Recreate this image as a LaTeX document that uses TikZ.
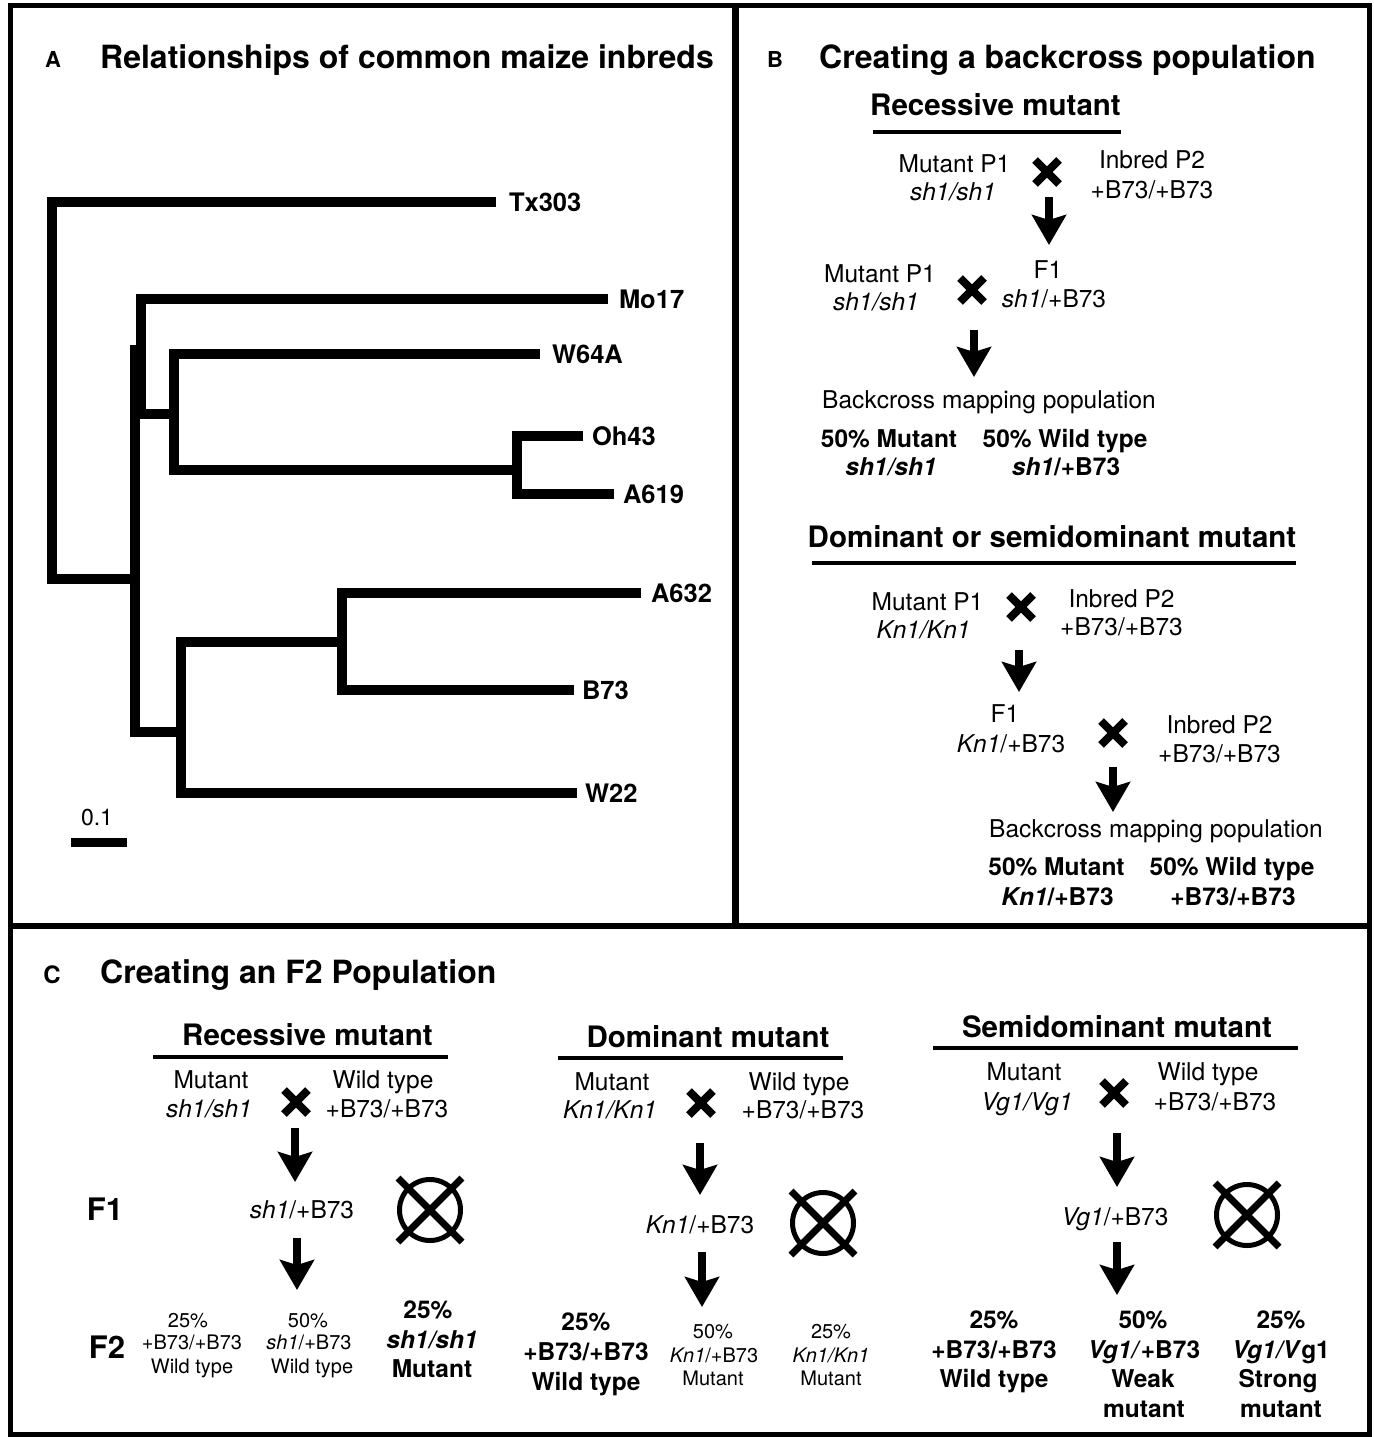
\documentclass[tikz,border=0pt]{standalone}
\usepackage{fontspec}
\setmainfont{TeX Gyre Heros}
\usetikzlibrary{arrows.meta}
\newcommand\ftitle{\fontsize{32}{36}\selectfont\bfseries}
\newcommand\fsubt{\fontsize{29.5}{34}\selectfont\bfseries}
\newcommand\fnorm{\fontsize{24.5}{28}\selectfont}
\newcommand\fbld{\fontsize{24.5}{28}\selectfont\bfseries}
\newcommand\fsmall{\fontsize{20}{23}\selectfont}
\newcommand\fletter{\fontsize{22}{26}\selectfont\bfseries}
\newcommand\ftree{\fontsize{25.5}{30}\selectfont\bfseries}
\newcommand\fgen{\fontsize{31}{36}\selectfont\bfseries}
\begin{document}
\begin{tikzpicture}[x=1pt,y=-1pt,
  lab/.style={anchor=base,inner sep=0pt,outer sep=0pt},
  tlab/.style={anchor=base west,inner sep=0pt,outer sep=0pt,font=\ftree},
  tree/.style={line width=10pt,line join=miter,line cap=butt},
  frameline/.style={line width=5pt},
  uline/.style={line width=4pt},
  bigarrow/.style={line width=8pt,-{Stealth[length=30pt,width=34pt,inset=5pt]}},
  xmark/.pic={\draw[line width=8pt] (-12,-12)--(12,12) (-12,12)--(12,-12);},
  selfmark/.pic={\draw[line width=5pt] (0,0) circle[radius=30.5];
                 \draw[line width=7pt] (-32,-32)--(32,32) (-32,32)--(32,-32);}
]
\useasboundingbox (0,0) rectangle (1373,1437);
\fill[white] (0,0) rectangle (1373,1437);

% frames
\draw[frameline] (10,6) rectangle (1369,1434);
\draw[line width=7pt] (735,6) -- (735,926);
\draw[line width=6pt] (10,926) -- (1369,926);

% ---------------- Panel A ----------------
\node[lab,font=\fletter] (Alet) at (53,67) {A};
\node[anchor=base west,inner sep=0pt,font=\ftitle] (Atitle) at (100,68) {Relationships of common maize inbreds};

\draw[tree] (496,202) -- (52,202) -- (52,579) -- (135,579);
\draw[tree] (608,299) -- (141,299) -- (141,414) -- (174,414);
\draw[tree] (135,345) -- (135,732) -- (181,732);
\draw[tree] (540,354) -- (174,354) -- (174,470) -- (517,470);
\draw[tree] (583,436) -- (517,436) -- (517,494) -- (614,494);
\draw[tree] (641,593) -- (342,593) -- (342,690) -- (574,690);
\draw[tree] (342,642) -- (181,642) -- (181,793) -- (577,793);

\node[tlab] (tx) at (509,211) {Tx303};
\node[tlab] (mo) at (619,308) {Mo17};
\node[tlab] (w64) at (552,363) {W64A};
\node[tlab] (oh) at (592,445) {Oh43};
\node[tlab] (a619) at (623,503) {A619};
\node[tlab] (a632) at (651,602) {A632};
\node[tlab] (b73) at (582,699) {B73};
\node[tlab] (w22) at (585,802) {W22};

\node[lab,font=\fontsize{23}{26}\selectfont] (scl) at (97,825) {0.1};
\draw[line width=9pt] (71,842) -- (127,842);

% ---------------- Panel B ----------------
\node[lab,font=\fletter] (Blet) at (775,67) {B};
\node[anchor=base west,inner sep=0pt,font=\ftitle] (Btitle) at (819,68) {Creating a backcross population};

\node[lab,font=\fsubt] (brec) at (995.5,115) {Recessive mutant};
\draw[uline] (873,132) -- (1121,132);

\node[lab,font=\fnorm] (b1m) at (954.5,172) {Mutant P1};
\node[lab,font=\fnorm] (b1mg) at (953,200) {\itshape sh1/sh1};
\pic at (1047,172) {xmark};
\node[lab,font=\fnorm] (b1i) at (1152,168) {Inbred P2};
\node[lab,font=\fnorm] (b1ig) at (1152,198) {+B73/+B73};
\coordinate (b1a) at (1049,197);
\coordinate (b1b) at (1049,245);
\draw[bigarrow] (b1a) -- (b1b);

\node[lab,font=\fnorm] (b2m) at (880,282) {Mutant P1};
\node[lab,font=\fnorm] (b2mg) at (876,310) {\itshape sh1/sh1};
\pic at (972,290) {xmark};
\node[lab,font=\fnorm] (b2f) at (1048,278) {F1};
\node[lab,font=\fnorm] (b2fg) at (1054,307) {\textit{sh1}/+B73};
\coordinate (b2a) at (974,330);
\coordinate (b2b) at (974,377);
\draw[bigarrow] (b2a) -- (b2b);

\node[lab,font=\fnorm] (b3) at (989,408) {Backcross mapping population};
\node[lab,font=\fbld] (b3m) at (889,447) {50\% Mutant};
\node[lab,font=\fbld] (b3w) at (1065,447) {50\% Wild type};
\node[lab,font=\fbld] (b3mg) at (891,475) {\itshape sh1/sh1};
\node[lab,font=\fbld] (b3wg) at (1066,475) {\textit{sh1}/+B73};

\node[lab,font=\fsubt] (bdom) at (1052,547) {Dominant or semidominant mutant};
\draw[uline] (812,563) -- (1296,563);

\node[lab,font=\fnorm] (d1m) at (927.5,610) {Mutant P1};
\node[lab,font=\fnorm] (d1mg) at (923.5,638) {\itshape Kn1/Kn1};
\pic at (1021,607) {xmark};
\node[lab,font=\fnorm] (d1i) at (1121.5,607) {Inbred P2};
\node[lab,font=\fnorm] (d1ig) at (1121.5,635) {+B73/+B73};
\coordinate (d1a) at (1019,650);
\coordinate (d1b) at (1019,692);
\draw[bigarrow] (d1a) -- (d1b);

\node[lab,font=\fnorm] (d2f) at (1005,722) {F1};
\node[lab,font=\fnorm] (d2fg) at (1011,752) {\textit{Kn1}/+B73};
\pic at (1113,733) {xmark};
\node[lab,font=\fnorm] (d2i) at (1219.5,733) {Inbred P2};
\node[lab,font=\fnorm] (d2ig) at (1219.5,762) {+B73/+B73};
\coordinate (d2a) at (1113,767);
\coordinate (d2b) at (1113,812);
\draw[bigarrow] (d2a) -- (d2b);

\node[lab,font=\fnorm] (d3) at (1156,837) {Backcross mapping population};
\node[lab,font=\fbld] (d3m) at (1056.5,875) {50\% Mutant};
\node[lab,font=\fbld] (d3w) at (1232,875) {50\% Wild type};
\node[lab,font=\fbld] (d3mg) at (1057.5,905) {\textit{Kn1}/+B73};
\node[lab,font=\fbld] (d3wg) at (1233,905) {+B73/+B73};

% ---------------- Panel C ----------------
\node[lab,font=\fontsize{24}{28}\selectfont\bfseries] (Clet) at (52,983) {C};
\node[anchor=base west,inner sep=0pt,font=\ftitle] (Ctitle) at (100,983) {Creating an F2 Population};

\node[lab,font=\fgen] (cF1) at (105,1220) {F1};
\node[lab,font=\fgen] (cF2) at (107,1358) {F2};

% recessive
\node[lab,font=\fsubt] (crec) at (307.5,1045) {Recessive mutant};
\draw[uline] (153,1057) -- (448,1057);
\node[lab,font=\fnorm] (r1m) at (211,1088) {Mutant};
\node[lab,font=\fnorm] (r1mg) at (209,1117) {\itshape sh1/sh1};
\pic at (296,1102) {xmark};
\node[lab,font=\fnorm] (r1w) at (383,1088) {Wild type};
\node[lab,font=\fnorm] (r1wg) at (387,1117) {+B73/+B73};
\coordinate (r1a) at (295,1128);
\coordinate (r1b) at (295,1182);
\draw[bigarrow] (r1a) -- (r1b);
\node[lab,font=\fnorm] (r2) at (302,1218) {\textit{sh1}/+B73};
\pic at (430,1210) {selfmark};
\coordinate (r2a) at (297,1238);
\coordinate (r2b) at (297,1290);
\draw[bigarrow] (r2a) -- (r2b);
\node[lab,font=\fsmall] (r3a1) at (188,1327) {25\%};
\node[lab,font=\fsmall] (r3a2) at (192,1349) {+B73/+B73};
\node[lab,font=\fsmall] (r3a3) at (192,1373) {Wild type};
\node[lab,font=\fsmall] (r3b1) at (308,1327) {50\%};
\node[lab,font=\fsmall] (r3b2) at (309,1349) {\textit{sh1}/+B73};
\node[lab,font=\fsmall] (r3b3) at (312,1373) {Wild type};
\node[lab,font=\fbld] (r3c1) at (428,1318) {25\%};
\node[lab,font=\fbld] (r3c2) at (432,1348) {\itshape sh1/sh1};
\node[lab,font=\fbld] (r3c3) at (432,1377) {Mutant};

% dominant
\node[lab,font=\fsubt] (cdom) at (708,1047) {Dominant mutant};
\draw[uline] (558,1058) -- (843,1058);
\node[lab,font=\fnorm] (o1m) at (612,1090) {Mutant};
\node[lab,font=\fnorm] (o1mg) at (610,1118) {\itshape Kn1/Kn1};
\pic at (701,1103) {xmark};
\node[lab,font=\fnorm] (o1w) at (799,1090) {Wild type};
\node[lab,font=\fnorm] (o1wg) at (803,1118) {+B73/+B73};
\coordinate (o1a) at (700,1143);
\coordinate (o1b) at (700,1195);
\draw[bigarrow] (o1a) -- (o1b);
\node[lab,font=\fnorm] (o2) at (700,1233) {\textit{Kn1}/+B73};
\pic at (823,1223) {selfmark};
\coordinate (o2a) at (702,1252);
\coordinate (o2b) at (702,1307);
\draw[bigarrow] (o2a) -- (o2b);
\node[lab,font=\fbld] (o3a1) at (586,1330) {25\%};
\node[lab,font=\fbld] (o3a2) at (586,1360) {+B73/+B73};
\node[lab,font=\fbld] (o3a3) at (586,1390) {Wild type};
\node[lab,font=\fsmall] (o3b1) at (713,1338) {50\%};
\node[lab,font=\fsmall] (o3b2) at (714,1362) {\textit{Kn1}/+B73};
\node[lab,font=\fsmall] (o3b3) at (713,1385) {Mutant};
\node[lab,font=\fsmall] (o3c1) at (831,1338) {25\%};
\node[lab,font=\fsmall] (o3c2) at (831,1362) {\itshape Kn1/Kn1};
\node[lab,font=\fsmall] (o3c3) at (831,1385) {Mutant};

% semidominant
\node[lab,font=\fsubt] (csem) at (1117,1037) {Semidominant mutant};
\draw[uline] (933,1048) -- (1298,1048);
\node[lab,font=\fnorm] (s1m) at (1024,1080) {Mutant};
\node[lab,font=\fnorm] (s1mg) at (1027,1110) {\itshape Vg1/Vg1};
\pic at (1114,1093) {xmark};
\node[lab,font=\fnorm] (s1w) at (1208,1080) {Wild type};
\node[lab,font=\fnorm] (s1wg) at (1215,1110) {+B73/+B73};
\coordinate (s1a) at (1117,1133);
\coordinate (s1b) at (1117,1187);
\draw[bigarrow] (s1a) -- (s1b);
\node[lab,font=\fnorm] (s2) at (1115,1225) {\textit{Vg1}/+B73};
\pic at (1247,1215) {selfmark};
\coordinate (s2a) at (1117,1242);
\coordinate (s2b) at (1117,1295);
\draw[bigarrow] (s2a) -- (s2b);
\node[lab,font=\fbld] (s3a1) at (994,1328) {25\%};
\node[lab,font=\fbld] (s3a2) at (994,1358) {+B73/+B73};
\node[lab,font=\fbld] (s3a3) at (994,1387) {Wild type};
\node[lab,font=\fbld] (s3b1) at (1143,1328) {50\%};
\node[lab,font=\fbld] (s3b2) at (1144,1358) {\textit{Vg1/}+B73};
\node[lab,font=\fbld] (s3b3) at (1143,1387) {Weak};
\node[lab,font=\fbld] (s3b4) at (1144,1417) {mutant};
\node[lab,font=\fbld] (s3c1) at (1281,1328) {25\%};
\node[lab,font=\fbld] (s3c2) at (1281,1358) {\textit{Vg1/V}g1};
\node[lab,font=\fbld] (s3c3) at (1278,1387) {Strong};
\node[lab,font=\fbld] (s3c4) at (1281,1417) {mutant};
\end{tikzpicture}
\end{document}
